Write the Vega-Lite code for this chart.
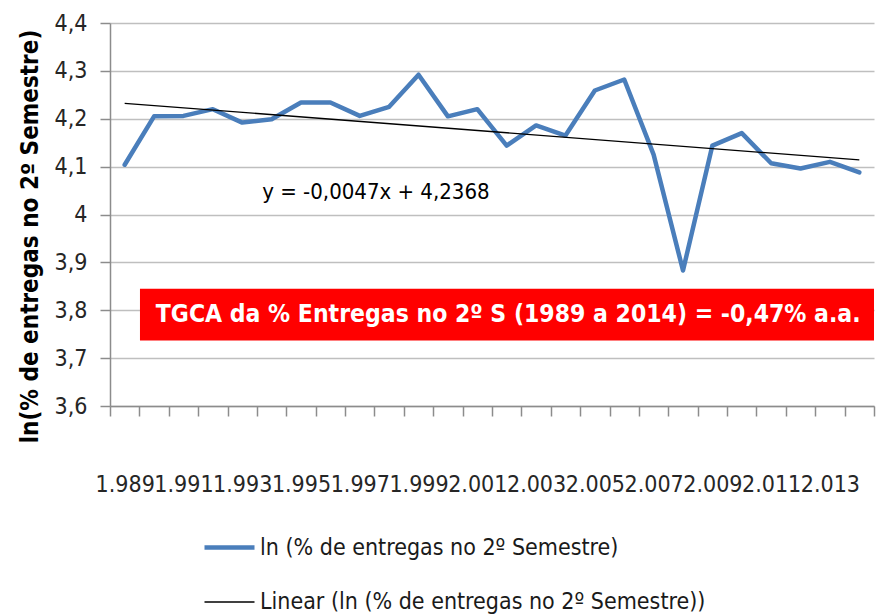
{
  "$schema": "https://vega.github.io/schema/vega-lite/v6.json",
  "width": 764,
  "height": 383,
  "autosize": "none",
  "padding": {"left": 110, "top": 23, "right": 3, "bottom": 208},
  "background": "white",
  "config": {"view": {"stroke": null}, "font": "DejaVu Sans Condensed", "axis": {"labelOverlap": false}},
  "data": {"values": [
    {"year": 1989, "value": 4.104},
    {"year": 1990, "value": 4.205},
    {"year": 1991, "value": 4.206},
    {"year": 1992, "value": 4.220},
    {"year": 1993, "value": 4.192},
    {"year": 1994, "value": 4.199},
    {"year": 1995, "value": 4.234},
    {"year": 1996, "value": 4.234},
    {"year": 1997, "value": 4.206},
    {"year": 1998, "value": 4.225},
    {"year": 1999, "value": 4.292},
    {"year": 2000, "value": 4.205},
    {"year": 2001, "value": 4.220},
    {"year": 2002, "value": 4.144},
    {"year": 2003, "value": 4.186},
    {"year": 2004, "value": 4.165},
    {"year": 2005, "value": 4.259},
    {"year": 2006, "value": 4.282},
    {"year": 2007, "value": 4.125},
    {"year": 2008, "value": 3.883},
    {"year": 2009, "value": 4.144},
    {"year": 2010, "value": 4.170},
    {"year": 2011, "value": 4.107},
    {"year": 2012, "value": 4.096},
    {"year": 2013, "value": 4.110},
    {"year": 2014, "value": 4.088}
  ]},
  "resolve": {"axis": {"x": "independent"}},
  "layer": [
    {
      "mark": {"type": "line", "strokeJoin": "round", "strokeCap": "round"},
      "encoding": {
        "x": {
          "field": "year", "type": "quantitative",
          "scale": {"domain": [1988.5, 2014.5], "nice": false, "zero": false},
          "axis": {
            "orient": "bottom",
            "title": null,
            "grid": false,
            "values": [1988.5, 1989.5, 1990.5, 1991.5, 1992.5, 1993.5, 1994.5, 1995.5, 1996.5, 1997.5, 1998.5, 1999.5, 2000.5, 2001.5, 2002.5, 2003.5, 2004.5, 2005.5, 2006.5, 2007.5, 2008.5, 2009.5, 2010.5, 2011.5, 2012.5, 2013.5, 2014.5],
            "labels": false,
            "tickSize": 10,
            "tickColor": "#8c8c8c",
            "tickWidth": 1.5,
            "domainColor": "#8c8c8c",
            "domainWidth": 1.5
          }
        },
        "y": {
          "field": "value", "type": "quantitative",
          "scale": {"domain": [3.6, 4.4], "nice": false, "zero": false},
          "axis": {
            "title": "ln(% de entregas no 2º Semestre)",
            "titleFont": "DejaVu Sans Condensed",
            "titleFontSize": 24,
            "titleFontWeight": "bold",
            "titleColor": "#000000",
            "titlePadding": 12,
            "titleY": 213,
            "values": [3.6, 3.7, 3.8, 3.9, 4.0, 4.1, 4.2, 4.3, 4.4],
            "labelExpr": "replace(format(datum.value, '.1~f'), '.', ',')",
            "grid": true,
            "gridColor": "#bfbfbf",
            "gridWidth": 1.5,
            "tickSize": 10,
            "tickColor": "#8c8c8c",
            "tickWidth": 1.5,
            "domainColor": "#8c8c8c",
            "domainWidth": 1.5,
            "labelFont": "DejaVu Sans Condensed",
            "labelFontSize": 23,
            "labelColor": "#262626",
            "labelPadding": 13
          }
        },
        "color": {
          "datum": "ln (% de entregas no 2º Semestre)", "type": "nominal",
          "scale": {"domain": ["ln (% de entregas no 2º Semestre)", "Linear (ln (% de entregas no 2º Semestre))"], "range": ["#4a7ebb", "#000000"]},
          "legend": {
            "title": null,
            "orient": "none",
            "legendX": 92,
            "legendY": 497,
            "direction": "vertical",
            "symbolType": "stroke",
            "symbolSize": 2500,
            "labelFont": "DejaVu Sans Condensed",
            "labelFontSize": 23,
            "labelColor": "#1a1a1a",
            "labelOffset": 3,
            "labelLimit": 0,
            "rowPadding": 16,
            "padding": 0
          }
        },
        "strokeWidth": {
          "datum": "ln (% de entregas no 2º Semestre)", "type": "ordinal",
          "scale": {"domain": ["ln (% de entregas no 2º Semestre)", "Linear (ln (% de entregas no 2º Semestre))"], "range": [4.5, 1.3]},
          "legend": {
            "title": null,
            "orient": "none",
            "legendX": 92,
            "legendY": 497,
            "direction": "vertical",
            "symbolType": "stroke",
            "symbolSize": 2500,
            "labelFont": "DejaVu Sans Condensed",
            "labelFontSize": 23,
            "labelColor": "#1a1a1a",
            "labelOffset": 3,
            "labelLimit": 0,
            "rowPadding": 16,
            "padding": 0
          }
        }
      }
    },
    {
      "transform": [{"regression": "value", "on": "year"}],
      "mark": {"type": "line"},
      "encoding": {
        "x": {
          "field": "year", "type": "quantitative",
          "axis": {
            "orient": "bottom",
            "title": null,
            "grid": false,
            "domain": false,
            "ticks": false,
            "values": [1989, 1991, 1993, 1995, 1997, 1999, 2001, 2003, 2005, 2007, 2009, 2011, 2013],
            "labelExpr": "replace(format(datum.value, ','), ',', '.')",
            "labelOverlap": false,
            "labelFlush": false,
            "labelBound": false,
            "labelFont": "DejaVu Sans Condensed",
            "labelFontSize": 23,
            "labelColor": "#262626",
            "labelPadding": 67
          }
        },
        "y": {"field": "value", "type": "quantitative"},
        "color": {"datum": "Linear (ln (% de entregas no 2º Semestre))", "type": "nominal"},
        "strokeWidth": {"datum": "Linear (ln (% de entregas no 2º Semestre))", "type": "ordinal"}
      }
    },
    {
      "data": {"values": [{"label": "y = -0,0047x + 4,2368"}]},
      "mark": {"type": "text", "font": "DejaVu Sans Condensed", "fontSize": 22, "color": "#000000", "align": "center", "baseline": "middle"},
      "encoding": {
        "x": {"datum": 1997.55, "type": "quantitative", "axis": null},
        "y": {"datum": 4.048, "type": "quantitative"},
        "text": {"field": "label"}
      }
    },
    {
      "data": {"values": [{"label": "TGCA da % Entregas no 2º S (1989 a 2014) = -0,47% a.a."}]},
      "mark": {"type": "rect", "color": "#ff0000"},
      "encoding": {
        "x": {"datum": 1989.52, "type": "quantitative", "axis": null},
        "x2": {"datum": 2014.5},
        "y": {"datum": 3.845, "type": "quantitative"},
        "y2": {"datum": 3.737}
      }
    },
    {
      "data": {"values": [{"label": "TGCA da % Entregas no 2º S (1989 a 2014) = -0,47% a.a."}]},
      "mark": {"type": "text", "font": "DejaVu Sans Condensed", "fontSize": 24.5, "fontWeight": "bold", "color": "#ffffff", "align": "center", "baseline": "middle"},
      "encoding": {
        "x": {"datum": 2002.05, "type": "quantitative", "axis": null},
        "y": {"datum": 3.791, "type": "quantitative"},
        "text": {"field": "label"}
      }
    }
  ]
}
